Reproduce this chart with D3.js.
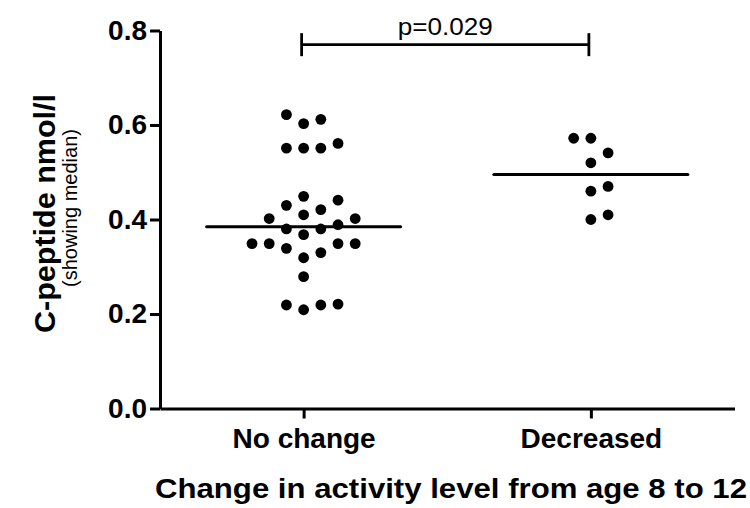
<!DOCTYPE html>
<html>
<head>
<meta charset="utf-8">
<script src="https://cdn.jsdelivr.net/npm/d3@7"></script>
<style>
  body { margin: 0; background: #fff; }
  svg { display: block; font-family: 'Liberation Sans', Arial, sans-serif; }
  .axis path, .axis line { stroke: #000; stroke-width: 3px; }
  .axis text { font-size: 28px; font-weight: bold; fill: #000; }
</style>
</head>
<body>
<div id="chart"></div>
<script>
const categories = ['No change', 'Decreased'];
const noChange = [
  0.209, 0.219, 0.219, 0.221, 0.279, 0.319, 0.330, 0.339, 0.349, 0.349,
  0.349, 0.349, 0.368, 0.380, 0.380, 0.389, 0.402, 0.402, 0.410, 0.421,
  0.430, 0.441, 0.449, 0.551, 0.551, 0.551, 0.561, 0.603, 0.612, 0.622
];
const decreased = [0.400, 0.410, 0.460, 0.470, 0.520, 0.541, 0.572, 0.572];
const yTicks = [0, 0.2, 0.4, 0.6, 0.8];
const pLabel = 'p=0.029';
const pBracketValue = 0.77;
const xTitle = 'Change in activity level from age 8 to 12';
const yTitle = 'C-peptide nmol/l';
const ySubtitle = '(showing median)';

const width = 750;
const height = 508;
const radius = 5.4;
const slotStep = 17.2;
const minGap = 17;
const medianHalf = 97;

const svg = d3.select('#chart')
  .append('svg')
  .attr('width', width)
  .attr('height', height);

const x = d3.scalePoint()
  .domain(categories)
  .range([160, 734.5])
  .padding(0.5);

const y = d3.scaleLinear()
  .domain([0, 0.8])
  .range([408.5, 30.5]);

// greedy swarm: lowest values first, centre slot then alternate right/left
function swarm(values) {
  const slots = [0, 1, -1, 2, -2, 3, -3, 4, -4];
  const placed = [];
  values.slice().sort((a, b) => a - b).forEach((v) => {
    const py = y(v);
    const slot = slots.find((s) => placed.every((q) => q.slot !== s || Math.abs(q.y - py) >= minGap));
    placed.push({ value: v, y: py, slot });
  });
  return placed;
}

const groups = [
  { name: categories[0], values: noChange },
  { name: categories[1], values: decreased }
];

svg.append('g')
  .attr('class', 'axis y')
  .attr('transform', `translate(${x.range()[0]},0)`)
  .call(d3.axisLeft(y)
    .tickValues(yTicks)
    .tickFormat(d3.format('.1f'))
    .tickSize(10)
    .tickPadding(3)
    .tickSizeOuter(0));

svg.append('g')
  .attr('class', 'axis x')
  .attr('transform', `translate(0,${y(0)})`)
  .call(d3.axisBottom(x)
    .tickSize(10)
    .tickPadding(10)
    .tickSizeOuter(0));

groups.forEach((g) => {
  const cx = x(g.name);
  const pts = swarm(g.values);

  svg.append('g')
    .selectAll('circle')
    .data(pts)
    .enter()
      .append('circle')
      .attr('cx', (d) => cx + d.slot * slotStep)
      .attr('cy', (d) => d.y)
      .attr('r', radius)
      .attr('fill', '#000');

  const med = d3.median(g.values);
  svg.append('line')
    .attr('x1', cx - medianHalf)
    .attr('x2', cx + medianHalf)
    .attr('y1', y(med))
    .attr('y2', y(med))
    .attr('stroke', '#000')
    .attr('stroke-width', 3)
    .attr('stroke-linecap', 'round');
});

// significance bracket
const by = y(pBracketValue);
const bx1 = x(categories[0]) - 2;
const bx2 = x(categories[1]) - 2;
const bracket = svg.append('g')
  .attr('stroke', '#000')
  .attr('stroke-width', 2.8);
bracket.append('line').attr('x1', bx1).attr('x2', bx2).attr('y1', by).attr('y2', by);
[bx1, bx2].forEach((bx) => {
  bracket.append('line').attr('x1', bx).attr('x2', bx).attr('y1', by - 11.5).attr('y2', by + 11.5);
});

svg.append('text')
  .attr('x', (bx1 + bx2) / 2)
  .attr('y', by - 9.5)
  .attr('text-anchor', 'middle')
  .attr('font-size', 23)
  .attr('textLength', 95)
  .attr('lengthAdjust', 'spacingAndGlyphs')
  .text(pLabel);

svg.append('text')
  .attr('x', 451)
  .attr('y', 498)
  .attr('text-anchor', 'middle')
  .attr('font-size', 27)
  .attr('font-weight', 'bold')
  .attr('textLength', 592)
  .attr('lengthAdjust', 'spacingAndGlyphs')
  .text(xTitle);

svg.append('text')
  .attr('transform', 'translate(55,213.5) rotate(-90)')
  .attr('text-anchor', 'middle')
  .attr('font-size', 30)
  .attr('font-weight', 'bold')
  .attr('textLength', 239)
  .attr('lengthAdjust', 'spacingAndGlyphs')
  .text(yTitle);

svg.append('text')
  .attr('transform', 'translate(77,208) rotate(-90)')
  .attr('text-anchor', 'middle')
  .attr('font-size', 21)
  .attr('textLength', 158)
  .attr('lengthAdjust', 'spacingAndGlyphs')
  .text(ySubtitle);
</script>
</body>
</html>
